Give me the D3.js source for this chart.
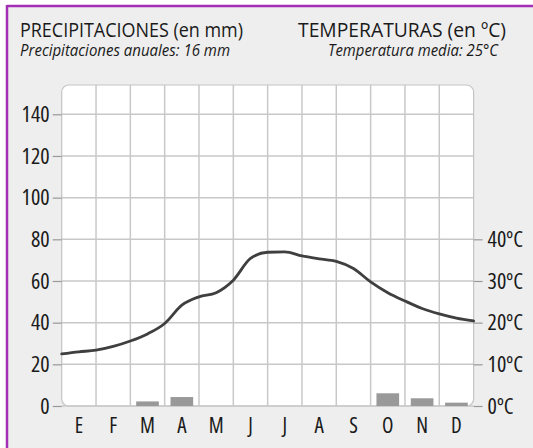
<!DOCTYPE html>
<html lang="es">
<head>
<meta charset="utf-8">
<title>Climograma</title>
<script src="https://d3js.org/d3.v7.min.js"></script>
<style>
  body { margin: 0; background: #fff; }
  svg text { font-family: "Open Sans", sans-serif; font-stretch: 75%; fill: #1a1a1a; }
  svg text.head { font-stretch: 100%; }
</style>
</head>
<body>
<script>
// data
const months = ["E", "F", "M", "A", "M", "J", "J", "A", "S", "O", "N", "D"];
const precip = [0, 0, 2.2, 4.3, 0, 0, 0, 0, 0, 6.1, 3.7, 1.6];
// temperature read every half month, from start of E to end of D
const tempHalfMonth = [12.5, 13.0, 13.4, 14.3, 15.6, 17.3, 19.8, 24.2, 26.2, 27.2, 30.2, 35.4,
                       36.9, 37.0, 36.0, 35.3, 34.7, 33.0, 29.8, 27.2, 25.2, 23.4, 22.1, 21.1, 20.4];
const precipTicks = [0, 20, 40, 60, 80, 100, 120, 140];
const tempTicks = [0, 10, 20, 30, 40];

const width = 533, height = 448;
const plotLeft = 61.7, plotRight = 473.6, plotTop = 85, plotBottom = 406;

const svg = d3.select("body").append("svg")
  .attr("width", width)
  .attr("height", height);

// background + frame
svg.append("rect").attr("x", 7).attr("y", 6).attr("width", width).attr("height", height).attr("fill", "#eeeeee");
svg.append("line").attr("x1", 7).attr("x2", width).attr("y1", 6).attr("y2", 6).attr("stroke", "#a22fb4").attr("stroke-width", 2.5);
svg.append("line").attr("x1", 7).attr("x2", 7).attr("y1", 5).attr("y2", height).attr("stroke", "#a22fb4").attr("stroke-width", 2.5);

// scales
const x = d3.scaleLinear().domain([0, 12]).range([plotLeft, plotRight]);
const xBand = d3.scaleBand().domain(d3.range(12)).range([plotLeft, plotRight]).paddingInner(0.34).paddingOuter(0.17);
const y = d3.scaleLinear().domain([0, 140]).range([plotBottom, 114.3]);
const yT = d3.scaleLinear().domain([0, 70]).range([plotBottom, 114.3]);

// plot area
svg.append("rect")
  .attr("x", plotLeft).attr("y", plotTop)
  .attr("width", plotRight - plotLeft).attr("height", plotBottom - plotTop)
  .attr("rx", 7)
  .attr("fill", "#fff")
  .attr("stroke", "#c4c4c4")
  .attr("stroke-width", 1.2);

// grid
svg.append("g").selectAll("line")
  .data(precipTicks)
  .join("line")
  .attr("x1", plotLeft).attr("x2", plotRight)
  .attr("y1", d => y(d)).attr("y2", d => y(d))
  .attr("stroke", "#c8c8c8").attr("stroke-width", 1.5);

svg.append("g").selectAll("line")
  .data(d3.range(1, 12))
  .join("line")
  .attr("x1", d => x(d)).attr("x2", d => x(d))
  .attr("y1", plotTop).attr("y2", plotBottom)
  .attr("stroke", "#c8c8c8").attr("stroke-width", 1.5);

// bars
svg.append("g").selectAll("rect")
  .data(precip)
  .join("rect")
  .attr("x", (d, i) => xBand(i))
  .attr("y", d => y(d))
  .attr("width", xBand.bandwidth())
  .attr("height", d => plotBottom - y(d))
  .attr("fill", "#999999");

// temperature line
const line = d3.line()
  .x((d, i) => x(i / 2))
  .y(d => yT(d))
  .curve(d3.curveMonotoneX);

svg.append("path")
  .datum(tempHalfMonth)
  .attr("d", line)
  .attr("fill", "none")
  .attr("stroke", "#3f3f3f")
  .attr("stroke-width", 2.8)
  .attr("stroke-linecap", "round");

// axes
const leftAxis = d3.axisLeft(y).tickValues(precipTicks).tickSize(9).tickPadding(3);
const gL = svg.append("g").attr("transform", "translate(" + plotLeft + ",0)").call(leftAxis);
gL.select(".domain").remove();
gL.selectAll(".tick line").attr("stroke", "#999").attr("stroke-width", 1.2);
gL.selectAll(".tick text").attr("font-size", 22).attr("fill", "#1a1a1a");

const rightAxis = d3.axisRight(yT).tickValues(tempTicks).tickSize(9).tickPadding(5).tickFormat(d => d + "ºC");
const gR = svg.append("g").attr("transform", "translate(" + plotRight + ",0)").call(rightAxis);
gR.select(".domain").remove();
gR.selectAll(".tick line").attr("stroke", "#999").attr("stroke-width", 1.2);
gR.selectAll(".tick text").attr("font-size", 22).attr("fill", "#1a1a1a");

// month labels
svg.append("g").selectAll("text")
  .data(months)
  .join("text")
  .attr("x", (d, i) => xBand(i) + xBand.bandwidth() / 2)
  .attr("y", 433)
  .attr("text-anchor", "middle")
  .attr("font-size", 21)
  .text(d => d);

// headers
svg.append("text").attr("class", "head").attr("x", 20).attr("y", 37).attr("font-size", 20)
  .attr("textLength", 223).attr("lengthAdjust", "spacingAndGlyphs")
  .text("PRECIPITACIONES (en mm)");
svg.append("text").attr("class", "head").attr("x", 20).attr("y", 56).attr("font-size", 15.5).attr("font-style", "italic")
  .attr("textLength", 210).attr("lengthAdjust", "spacingAndGlyphs")
  .text("Precipitaciones anuales: 16 mm");
svg.append("text").attr("class", "head").attr("x", 298).attr("y", 37).attr("font-size", 20)
  .attr("textLength", 208).attr("lengthAdjust", "spacingAndGlyphs")
  .text("TEMPERATURAS (en ºC)");
svg.append("text").attr("class", "head").attr("x", 328).attr("y", 56).attr("font-size", 15.5).attr("font-style", "italic")
  .attr("textLength", 170).attr("lengthAdjust", "spacingAndGlyphs")
  .text("Temperatura media: 25°C");
</script>
</body>
</html>
